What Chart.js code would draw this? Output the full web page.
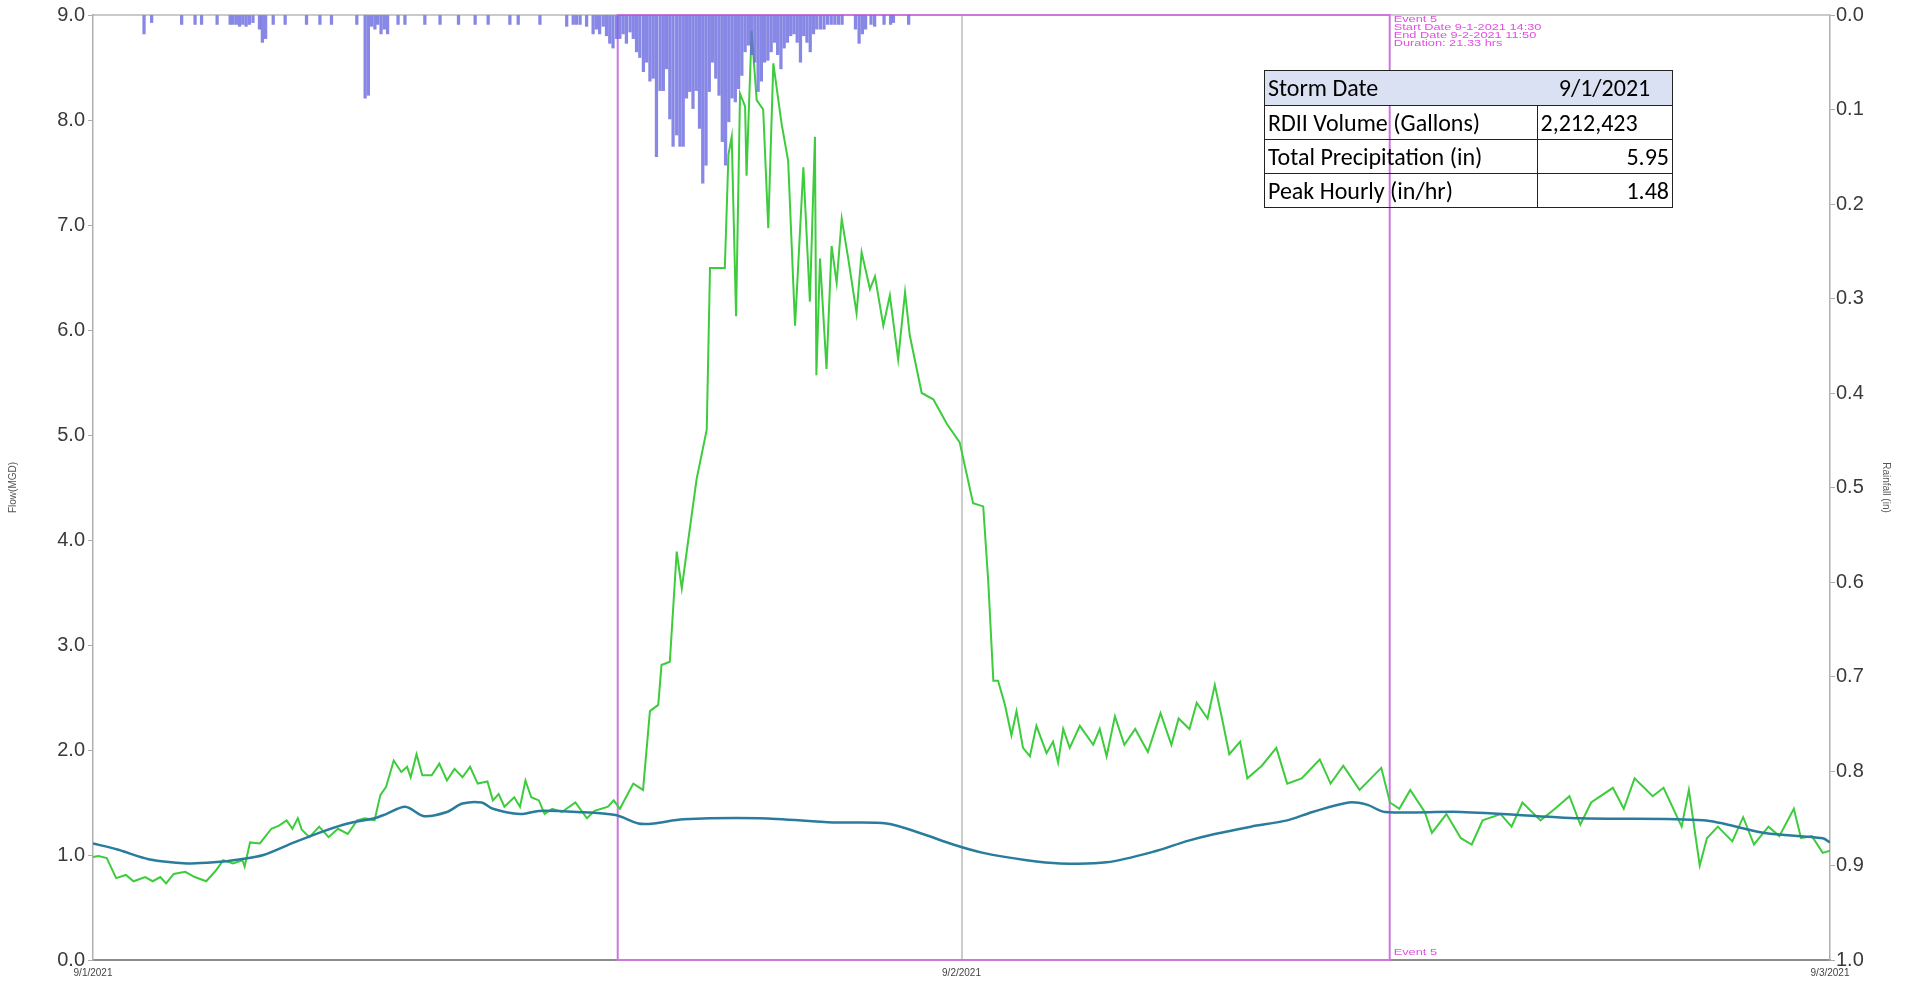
<!DOCTYPE html>
<html>
<head>
<meta charset="utf-8">
<title>Flow and Rainfall - Event 5</title>
<script src="https://cdn.jsdelivr.net/npm/chart.js@4.4.1/dist/chart.umd.min.js"></script>
<style>
  body { margin: 0; background: #fff; overflow: hidden; }
  #wrap { position: relative; width: 1906px; height: 983px; }
  #stats {
    position: absolute; left: 1264px; top: 70px; width: 409px;
    border-collapse: collapse; font-family: Carlito, Lato, sans-serif; font-size: 24px; color: #000;
  }
  #stats td { border: 1.5px solid #222; padding: 0 3px; height: 33px; line-height: 30px; white-space: nowrap; }
  #stats tr.head td { background: #d9e1f2; height: 34px; }
  #stats td.num { text-align: right; }
  #stats td.ctr { text-align: center; }
</style>
</head>
<body>
<div id="wrap">
  <canvas id="myChart"></canvas>
  <table id="stats">
    <tr class="head"><td style="width:266px;border-right:none">Storm Date</td><td class="ctr" style="border-left:none">9/1/2021</td></tr>
    <tr><td>RDII Volume (Gallons)</td><td>2,212,423</td></tr>
    <tr><td>Total Precipitation (in)</td><td class="num">5.95</td></tr>
    <tr><td>Peak Hourly (in/hr)</td><td class="num">1.48</td></tr>
  </table>
</div>
<script>
// hours since 9/1/2021 00:00
const dateLabels = ['9/1/2021', '9/2/2021', '9/3/2021'];

const flowHours = [0.00,0.15,0.38,0.64,0.91,1.12,1.44,1.65,1.86,2.02,2.23,2.55,2.81,3.13,3.39,3.60,3.87,4.13,4.19,4.34,
  4.61,4.93,5.14,5.35,5.51,5.66,5.77,5.98,6.25,6.51,6.77,7.04,7.30,7.51,7.78,7.94,8.10,8.31,8.52,8.68,
  8.78,8.94,9.10,9.36,9.57,9.78,9.99,10.21,10.42,10.63,10.90,11.05,11.21,11.37,11.64,11.80,11.95,12.11,12.32,12.48,
  12.69,12.96,13.33,13.65,13.86,14.23,14.39,14.56,14.93,15.20,15.39,15.62,15.71,15.94,16.13,16.27,16.45,16.68,16.96,17.05,
  17.46,17.56,17.65,17.77,17.88,18.02,18.06,18.20,18.34,18.52,18.66,18.80,19.03,19.21,19.40,19.63,19.81,19.95,19.99,20.09,
  20.27,20.41,20.55,20.69,20.87,21.10,21.24,21.47,21.61,21.84,22.02,22.25,22.44,22.57,22.90,23.22,23.59,23.95,24.32,24.60,
  24.74,24.88,25.01,25.20,25.38,25.52,25.70,25.89,26.07,26.35,26.53,26.67,26.81,26.99,27.27,27.64,27.82,28.01,28.24,28.50,
  28.80,29.15,29.50,29.80,30.00,30.30,30.50,30.80,31.00,31.20,31.40,31.70,31.90,32.30,32.70,33.00,33.40,33.90,34.20,34.55,
  35.00,35.60,35.84,36.10,36.40,36.80,37.00,37.40,37.80,38.10,38.40,38.90,39.20,39.50,40.00,40.40,40.80,41.10,41.40,42.00,
  42.30,42.60,43.10,43.40,43.90,44.10,44.40,44.60,44.90,45.30,45.60,45.90,46.30,46.60,47.00,47.20,47.50,47.80,48.00];
const flowValues = [0.98,0.99,0.97,0.78,0.81,0.75,0.79,0.75,0.79,0.73,0.82,0.84,0.79,0.75,0.85,0.95,0.92,0.95,0.89,1.12,
  1.11,1.25,1.28,1.33,1.25,1.35,1.24,1.17,1.27,1.17,1.25,1.20,1.33,1.35,1.33,1.57,1.65,1.90,1.79,1.84,
  1.74,1.96,1.76,1.76,1.87,1.71,1.82,1.74,1.84,1.68,1.70,1.52,1.58,1.46,1.55,1.46,1.71,1.55,1.52,1.39,
  1.44,1.41,1.50,1.35,1.42,1.46,1.52,1.44,1.68,1.62,2.37,2.43,2.81,2.84,3.89,3.54,4.00,4.58,5.05,6.59,
  6.59,7.67,7.84,6.13,8.25,8.13,7.47,8.85,8.19,8.10,6.97,8.54,7.96,7.61,6.04,7.55,6.27,7.84,5.57,6.68,
  5.63,6.80,6.45,7.06,6.68,6.16,6.74,6.39,6.51,6.04,6.33,5.72,6.36,5.95,5.40,5.34,5.11,4.93,4.35,4.32,
  3.60,2.66,2.66,2.43,2.14,2.37,2.02,1.94,2.23,1.97,2.08,1.88,2.20,2.02,2.23,2.05,2.20,1.94,2.32,2.05,
  2.20,1.98,2.35,2.05,2.30,2.20,2.45,2.30,2.62,2.30,1.96,2.08,1.73,1.85,2.02,1.68,1.73,1.91,1.68,1.85,
  1.62,1.83,1.50,1.44,1.62,1.41,1.21,1.39,1.16,1.10,1.33,1.39,1.27,1.50,1.33,1.44,1.56,1.29,1.50,1.64,
  1.44,1.73,1.56,1.64,1.27,1.62,0.90,1.16,1.27,1.13,1.36,1.10,1.27,1.18,1.44,1.16,1.18,1.02,1.04];

const baseHours = [0.0,0.7,1.54,2.6,3.34,4.08,4.71,5.56,6.4,7.04,7.78,8.1,8.63,9.15,9.78,10.21,10.74,11.05,11.8,12.32,
  13.38,14.44,15.07,15.5,16.31,18.43,20.46,21.93,22.85,23.77,24.6,25.8,26.72,28.01,29.4,30.2,31.0,32.0,33.0,33.7,
  34.7,35.2,35.7,37.8,41.1,44.5,46.2,47.8,48.0];
const baseValues = [1.11,1.05,0.96,0.92,0.93,0.96,1.00,1.12,1.23,1.30,1.35,1.39,1.46,1.37,1.41,1.49,1.50,1.44,1.39,1.42,
  1.41,1.38,1.30,1.30,1.34,1.35,1.31,1.30,1.21,1.10,1.02,0.95,0.92,0.93,1.04,1.13,1.20,1.27,1.33,1.41,
  1.50,1.48,1.41,1.41,1.35,1.33,1.21,1.16,1.12];

const rainHours = [1.41,1.62,2.45,2.82,3.00,3.43,3.79,3.87,3.96,4.05,4.14,4.23,4.32,4.42,4.60,4.68,4.77,4.98,5.31,5.90,
  6.27,6.59,7.29,7.52,7.61,7.70,7.79,7.87,7.96,8.05,8.14,8.43,8.62,9.17,9.59,10.10,10.56,10.92,11.52,11.75,
  12.35,13.09,13.27,13.36,13.46,13.64,13.82,13.91,14.00,14.10,14.19,14.28,14.37,14.47,14.56,14.65,14.74,14.84,14.93,15.02,
  15.11,15.21,15.30,15.39,15.48,15.57,15.67,15.76,15.85,15.94,16.03,16.13,16.22,16.31,16.40,16.49,16.58,16.67,16.76,16.85,
  16.94,17.03,17.12,17.21,17.30,17.39,17.48,17.57,17.66,17.75,17.84,17.93,18.02,18.11,18.20,18.29,18.38,18.47,18.56,18.65,
  18.74,18.83,18.92,19.01,19.10,19.19,19.28,19.37,19.46,19.55,19.64,19.73,19.82,19.91,20.00,20.10,20.20,20.30,20.40,20.50,
  20.60,20.70,21.07,21.17,21.26,21.35,21.50,21.60,21.86,22.04,22.12,22.54];
const rainValues = [0.02,0.008,0.01,0.01,0.01,0.01,0.01,0.01,0.01,0.012,0.01,0.012,0.01,0.008,0.015,0.029,0.025,0.01,0.01,0.01,
  0.01,0.01,0.01,0.088,0.085,0.012,0.015,0.01,0.02,0.015,0.02,0.01,0.01,0.01,0.01,0.01,0.01,0.01,0.01,0.01,
  0.01,0.012,0.01,0.01,0.01,0.012,0.02,0.015,0.02,0.012,0.022,0.03,0.035,0.025,0.025,0.02,0.03,0.018,0.025,0.039,
  0.045,0.06,0.05,0.07,0.067,0.15,0.08,0.08,0.057,0.11,0.139,0.127,0.139,0.139,0.088,0.081,0.099,0.08,0.12,0.178,
  0.159,0.081,0.05,0.067,0.085,0.134,0.159,0.113,0.088,0.092,0.078,0.064,0.039,0.032,0.042,0.05,0.081,0.07,0.05,0.048,
  0.039,0.029,0.042,0.057,0.035,0.029,0.022,0.02,0.029,0.05,0.022,0.029,0.039,0.02,0.015,0.015,0.015,0.01,0.01,0.01,
  0.01,0.01,0.015,0.03,0.02,0.015,0.01,0.012,0.01,0.01,0.008,0.01];

const eventStart = 14.5;      // 9-1-2021 14:30
const eventEnd = 35.833;      // 9-2-2021 11:50
const eventText = ['Event 5', 'Start Date 9-1-2021 14:30', 'End Date 9-2-2021 11:50', 'Duration: 21.33 hrs'];

const toPoints = (xs, ys) => xs.map((h, i) => ({x: h, y: ys[i]}));

const eventBox = {
  id: 'eventBox',
  beforeDatasetsDraw(chart) {
    const {ctx, chartArea: a, scales: {x}} = chart;
    ctx.save();
    ctx.strokeStyle = '#b8b8b8';
    ctx.lineWidth = 1.5;
    ctx.beginPath();
    ctx.moveTo(a.left, a.top);
    ctx.lineTo(a.right, a.top);
    ctx.stroke();
    const x1 = x.getPixelForValue(eventStart);
    const x2 = x.getPixelForValue(eventEnd);
    ctx.strokeStyle = '#cc77dd';
    ctx.lineWidth = 2;
    ctx.strokeRect(x1, a.top, x2 - x1, a.bottom - a.top);
    ctx.restore();
  },
  afterDraw(chart) {
    const {ctx, chartArea: a, scales: {x}} = chart;
    const x2 = x.getPixelForValue(eventEnd);
    ctx.save();
    ctx.fillStyle = '#e050e0';
    ctx.font = '9px "Liberation Sans", Arial, sans-serif';
    ctx.textBaseline = 'middle';
    // the source labels are wide and short, so stretch them sideways
    const line = (t, y) => {
      ctx.save();
      ctx.translate(x2 + 4, y);
      ctx.scale(1.42, 1);
      ctx.fillText(t, 0, 0);
      ctx.restore();
    };
    eventText.forEach((t, i) => line(t, a.top + 5 + i * 8));
    line(eventText[0], a.bottom - 7);
    ctx.restore();
  }
};

const tickFont = {family: '"Liberation Sans", Arial, sans-serif', size: 20};

const ctx = document.getElementById('myChart').getContext('2d');
const chart = new Chart(ctx, {
  type: 'line',
  data: {
    datasets: [
      {
        type: 'bar',
        label: 'Rainfall',
        data: toPoints(rainHours, rainValues),
        yAxisID: 'y2',
        backgroundColor: 'rgba(105,105,222,0.8)',
        barThickness: 2.6,
        order: 0
      },
      {
        label: 'Baseline',
        data: toPoints(baseHours, baseValues),
        yAxisID: 'y',
        borderColor: '#2a7c9c',
        borderWidth: 2.5,
        pointRadius: 0,
        tension: 0.3,
        order: 1
      },
      {
        label: 'Flow',
        data: toPoints(flowHours, flowValues),
        yAxisID: 'y',
        borderColor: '#3ccc3c',
        borderWidth: 2,
        pointRadius: 0,
        tension: 0,
        order: 2
      }
    ]
  },
  options: {
    responsive: true,
    maintainAspectRatio: false,
    animation: false,
    layout: {padding: {top: 13}},
    plugins: {legend: {display: false}, tooltip: {enabled: false}},
    scales: {
      x: {
        type: 'linear',
        min: 0,
        max: 48,
        offset: false,
        afterFit: s => { s.height = 23; },
        ticks: {
          stepSize: 24,
          autoSkip: false,
          maxRotation: 0,
          padding: 7,
          color: '#444',
          font: {family: '"Liberation Sans", Arial, sans-serif', size: 10},
          callback: v => dateLabels[v / 24]
        },
        grid: {
          offset: false,
          drawTicks: false,
          lineWidth: 2,
          color: c => (c.tick && c.tick.value === 24 ? '#cccccc' : 'transparent')
        },
        border: {color: '#8c8c8c', width: 2}
      },
      y: {
        position: 'left',
        min: 0,
        max: 9,
        afterFit: s => { s.width = 93; },
        ticks: {stepSize: 1, padding: 3, color: '#3a3a3a', font: tickFont, callback: v => v.toFixed(1)},
        grid: {drawOnChartArea: false, tickLength: 5, tickColor: '#aaa'},
        border: {color: '#b0b0b0', width: 1.5},
        title: {display: true, text: 'Flow(MGD)', color: '#555', padding: {top: 7, bottom: 0},
          font: {family: '"Liberation Sans", Arial, sans-serif', size: 10}}
      },
      y2: {
        position: 'right',
        min: 0,
        max: 1,
        reverse: true,
        afterFit: s => { s.width = 76; },
        ticks: {stepSize: 0.1, padding: 1, color: '#3a3a3a', font: tickFont, callback: v => v.toFixed(1)},
        grid: {drawOnChartArea: false, tickLength: 5, tickColor: '#aaa'},
        border: {color: '#b0b0b0', width: 1.5},
        title: {display: true, text: 'Rainfall (in)', color: '#555', padding: {top: 14, bottom: 0},
          font: {family: '"Liberation Sans", Arial, sans-serif', size: 10}}
      }
    }
  },
  plugins: [eventBox]
});
</script>
</body>
</html>
